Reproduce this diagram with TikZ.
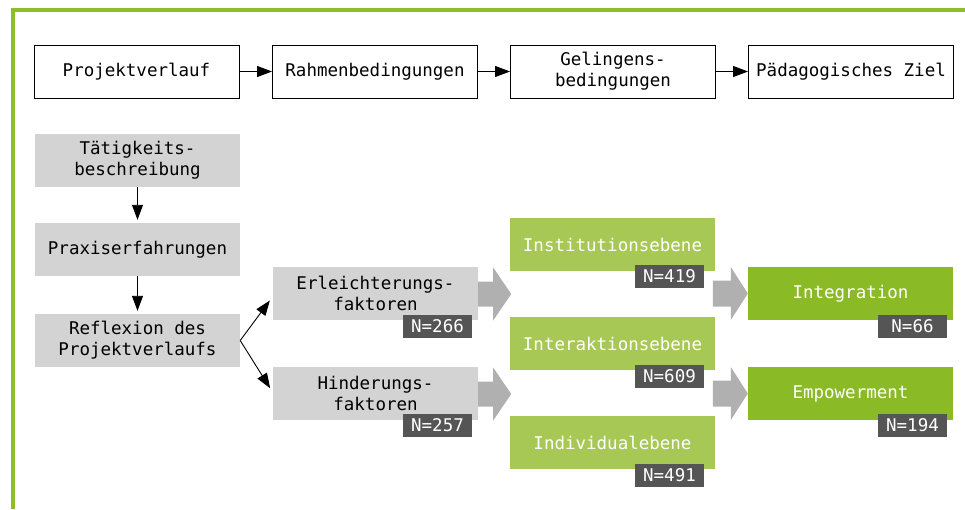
\documentclass[tikz,border=0pt]{standalone}
\usepackage{fontspec}
\setmonofont{DejaVu Sans Mono}
\usetikzlibrary{arrows.meta,calc}
\definecolor{frameg}{HTML}{8CBF27}
\definecolor{lightg}{HTML}{A8C856}
\definecolor{darkg}{HTML}{8ABB26}
\definecolor{boxgray}{HTML}{D3D3D3}
\definecolor{arrgray}{HTML}{B0B0B0}
\definecolor{badgegray}{HTML}{555555}
\tikzset{
  base/.style={minimum width=205pt,minimum height=53pt,inner sep=0pt,align=center,
    font=\fontsize{17.5pt}{21pt}\selectfont\ttfamily},
  topbox/.style={base,draw=black,line width=0.9pt,fill=white},
  graybox/.style={base,fill=boxgray},
  lgbox/.style={base,fill=lightg,text=white},
  dgbox/.style={base,fill=darkg,text=white},
  badge/.style={minimum width=69pt,minimum height=23pt,inner sep=0pt,fill=badgegray,text=white,
    font=\fontsize{17.5pt}{21pt}\selectfont\ttfamily},
  conn/.style={line width=0.9pt,-{Triangle[length=15pt,width=11pt]}},
  bigarrow/.style={fill=arrgray,draw=none}
}
\begin{document}
\begin{tikzpicture}[x=1pt,y=-1pt]
\useasboundingbox (0,0) rectangle (965,509);
% frame
\fill[frameg] (11,8) rectangle (965,11.5);
\fill[frameg] (11,8) rectangle (15,509);
% top row
\node[topbox] (p1) at (136.5,71.5) {Projektverlauf};
\node[topbox] (p2) at (375,71.5) {Rahmenbedingungen};
\node[topbox] (p3) at (613,71.5) {Gelingens-\\bedingungen};
\node[topbox] (p4) at (851,71.5) {Pädagogisches Ziel};
\draw[conn] (p1) -- (p2);
\draw[conn] (p2) -- (p3);
\draw[conn] (p3) -- (p4);
% left column
\node[graybox] (t1) at (137.5,160.5) {Tätigkeits-\\beschreibung};
\node[graybox] (t2) at (137.5,249.5) {Praxiserfahrungen};
\node[graybox] (t3) at (137.5,340.5) {Reflexion des\\Projektverlaufs};
\draw[conn,shorten >=3pt] (t1) -- (t2);
\draw[conn,shorten >=3pt] (t2) -- (t3);
% factors
\node[graybox] (e1) at (375.5,293.5) {Erleichterungs-\\faktoren};
\node[graybox] (e2) at (375.5,393.5) {Hinderungs-\\faktoren};
\node[badge] (be1) at (437.5,326.5) {N=266};
\node[badge] (be2) at (437.5,425.5) {N=257};
\draw[conn,shorten >=5pt] (t3.east) -- ($(e1.west)+(0,3)$);
\draw[conn,shorten >=5pt] (t3.east) -- ($(e2.west)+(0,-1)$);
% levels
\node[lgbox] (g1) at (612.5,244.5) {Institutionsebene};
\node[lgbox] (g2) at (612.5,343.5) {Interaktionsebene};
\node[lgbox] (g3) at (612.5,442.5) {Individualebene};
\node[badge] (bg1) at (669.5,276.5) {N=419};
\node[badge] (bg2) at (669.5,376.5) {N=609};
\node[badge] (bg3) at (669.5,475.5) {N=491};
% outcomes
\node[dgbox] (i1) at (850.5,293.5) {Integration};
\node[dgbox] (i2) at (850.5,393.5) {Empowerment};
\node[badge] (bi1) at (912.5,326) {N=66};
\node[badge] (bi2) at (912.5,425.5) {N=194};
% big gray arrows
\foreach \src in {e1,e2}{
  \fill[bigarrow] ($(\src.east)+(0,-12)$) -- ++(15,0) -- ++(0,-14) -- ++(18,26.5)
     -- ++(-18,26.5) -- ++(0,-14) -- ++(-15,0) -- cycle;
}
\foreach \dst in {i1,i2}{
  \fill[bigarrow] ($(\dst.west)+(-35,-13)$) -- ++(18,0) -- ++(0,-13.5) -- ++(17,26.5)
     -- ++(-17,26.5) -- ++(0,-13.5) -- ++(-18,0) -- cycle;
}
\end{tikzpicture}
\end{document}
